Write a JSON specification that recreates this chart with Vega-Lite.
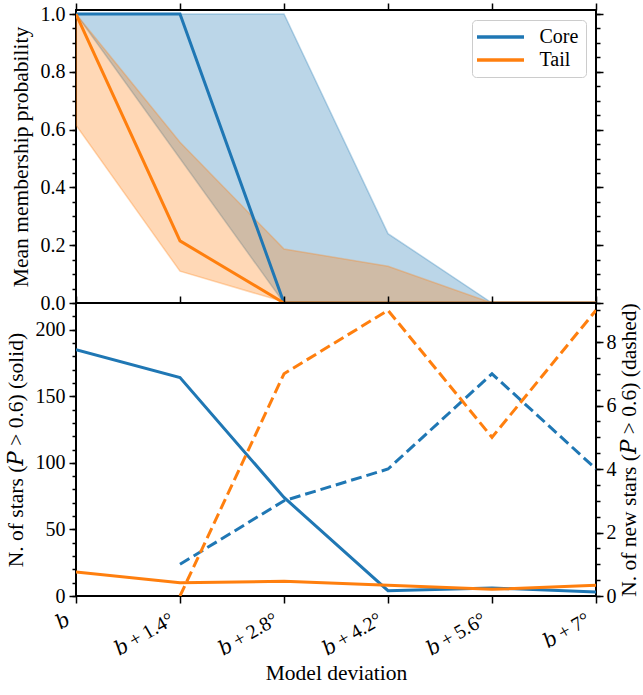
{
  "$schema": "https://vega.github.io/schema/vega-lite/v6.json",
  "padding": {"left": 3, "top": 1, "right": 0, "bottom": 0},
  "config": {
    "font": "Liberation Serif, DejaVu Serif, serif",
    "view": {"stroke": "#000000", "strokeWidth": 2},
    "axis": {
      "labelFont": "Liberation Serif, DejaVu Serif, serif",
      "titleFont": "Liberation Serif, DejaVu Serif, serif",
      "labelFontSize": 20,
      "titleFontSize": 21.5,
      "titleFontWeight": "normal",
      "labelColor": "#000000",
      "titleColor": "#000000",
      "tickColor": "#000000",
      "tickWidth": 1.5,
      "domain": false,
      "grid": false,
      "labelPadding": 4,
      "titlePadding": 8,
      "labelOverlap": false,
      "labelFlush": false
    },
    "legend": {
      "labelFont": "Liberation Serif, DejaVu Serif, serif",
      "titleFont": "Liberation Serif, DejaVu Serif, serif"
    }
  },
  "datasets": {
    "prob": [
      {"dev": 0, "group": "Core", "mean": 1.0, "lo": 1.0, "hi": 1.0},
      {"dev": 1.4, "group": "Core", "mean": 1.0, "lo": 0.5, "hi": 1.0},
      {"dev": 2.8, "group": "Core", "mean": 0.0, "lo": 0.0, "hi": 1.0},
      {"dev": 4.2, "group": "Core", "mean": 0.0, "lo": 0.0, "hi": 0.24},
      {"dev": 5.6, "group": "Core", "mean": 0.0, "lo": 0.0, "hi": 0.0},
      {"dev": 7, "group": "Core", "mean": 0.0, "lo": 0.0, "hi": 0.0},
      {"dev": 0, "group": "Tail", "mean": 1.0, "lo": 0.615, "hi": 1.0},
      {"dev": 1.4, "group": "Tail", "mean": 0.215, "lo": 0.11, "hi": 0.556},
      {"dev": 2.8, "group": "Tail", "mean": 0.0, "lo": 0.004, "hi": 0.187},
      {"dev": 4.2, "group": "Tail", "mean": 0.0, "lo": 0.0, "hi": 0.127},
      {"dev": 5.6, "group": "Tail", "mean": 0.0, "lo": 0.0, "hi": 0.0},
      {"dev": 7, "group": "Tail", "mean": 0.0, "lo": 0.0, "hi": 0.0}
    ],
    "count": [
      {"dev": 0, "group": "Core", "n": 185, "nnew": null},
      {"dev": 1.4, "group": "Core", "n": 164, "nnew": 1},
      {"dev": 2.8, "group": "Core", "n": 74, "nnew": 3},
      {"dev": 4.2, "group": "Core", "n": 4, "nnew": 4},
      {"dev": 5.6, "group": "Core", "n": 6, "nnew": 7},
      {"dev": 7, "group": "Core", "n": 3, "nnew": 4},
      {"dev": 0, "group": "Tail", "n": 18, "nnew": null},
      {"dev": 1.4, "group": "Tail", "n": 10, "nnew": 0},
      {"dev": 2.8, "group": "Tail", "n": 11, "nnew": 7},
      {"dev": 4.2, "group": "Tail", "n": 8, "nnew": 9},
      {"dev": 5.6, "group": "Tail", "n": 5, "nnew": 5},
      {"dev": 7, "group": "Tail", "n": 8, "nnew": 9}
    ]
  },
  "spacing": 0,
  "bounds": "flush",
  "resolve": {"scale": {"color": "independent"}, "legend": {"color": "independent"}},
  "vconcat": [
    {
      "width": 520,
      "height": 293,
      "data": {"name": "prob"},
      "resolve": {"axis": {"x": "independent", "y": "independent"}},
      "layer": [
        {
          "transform": [{"filter": "datum.group === 'Core'"}],
          "mark": {"type": "area", "fill": "#1f77b4", "fillOpacity": 0.3, "stroke": "#1f77b4", "strokeOpacity": 0.3, "strokeWidth": 1.5, "clip": true},
          "encoding": {
            "x": {"field": "dev", "type": "quantitative", "scale": {"domain": [0, 7], "nice": false, "zero": false},
                  "axis": {"orient": "top", "values": [0, 1.4, 2.8, 4.2, 5.6, 7], "labels": false, "title": null, "tickSize": 7}},
            "y": {"field": "lo", "type": "quantitative", "scale": {"domain": [0, 1.014], "nice": false, "zero": false},
                  "axis": {"orient": "left", "values": [0, 0.2, 0.4, 0.6, 0.8, 1.0], "format": ".1f", "title": "Mean membership probability", "tickSize": 7}},
            "y2": {"field": "hi"}
          }
        },
        {
          "transform": [{"filter": "datum.group === 'Tail'"}],
          "mark": {"type": "area", "fill": "#ff7f0e", "fillOpacity": 0.3, "stroke": "#ff7f0e", "strokeOpacity": 0.3, "strokeWidth": 1.5, "clip": true},
          "encoding": {
            "x": {"field": "dev", "type": "quantitative", "scale": {"domain": [0, 7], "nice": false, "zero": false}, "axis": null},
            "y": {"field": "lo", "type": "quantitative", "scale": {"domain": [0, 1.014], "nice": false, "zero": false}, "axis": null},
            "y2": {"field": "hi"}
          }
        },
        {
          "mark": {"type": "line", "strokeWidth": 3, "clip": true},
          "encoding": {
            "x": {"field": "dev", "type": "quantitative", "scale": {"domain": [0, 7], "nice": false, "zero": false}, "axis": null},
            "y": {"field": "mean", "type": "quantitative", "scale": {"domain": [0, 1.014], "nice": false, "zero": false}, "axis": null},
            "color": {
              "field": "group", "type": "nominal",
              "scale": {"domain": ["Core", "Tail"], "range": ["#1f77b4", "#ff7f0e"]},
              "legend": {
                "title": null, "orient": "top-right", "offset": 10,
                "symbolType": "M-4.7,0H4.7", "symbolSize": 100, "symbolStrokeWidth": 3.5, "symbolOffset": 11.5,
                "labelFontSize": 20, "labelColor": "#000000", "labelOffset": 29,
                "fillColor": "#ffffff", "strokeColor": "#cccccc", "cornerRadius": 4, "padding": 7, "rowPadding": 3
              }
            }
          }
        },
        {
          "mark": {"type": "line", "opacity": 0},
          "encoding": {
            "x": {"field": "dev", "type": "quantitative", "scale": {"domain": [0, 7], "nice": false, "zero": false}, "axis": null},
            "y": {"field": "mean", "type": "quantitative", "scale": {"domain": [0, 1.014], "nice": false, "zero": false},
                  "axis": {"orient": "left", "values": [0, 0.05, 0.1, 0.15, 0.2, 0.25, 0.3, 0.35, 0.4, 0.45, 0.5, 0.55, 0.6, 0.65, 0.7, 0.75, 0.8, 0.85, 0.9, 0.95, 1.0], "labels": false, "title": null, "tickSize": 4}},
            "detail": {"field": "group"}
          }
        },
        {
          "mark": {"type": "line", "opacity": 0},
          "encoding": {
            "x": {"field": "dev", "type": "quantitative", "scale": {"domain": [0, 7], "nice": false, "zero": false}, "axis": null},
            "y": {"field": "mean", "type": "quantitative", "scale": {"domain": [0, 1.014], "nice": false, "zero": false},
                  "axis": {"orient": "right", "values": [0, 0.2, 0.4, 0.6, 0.8, 1.0], "labels": false, "title": null, "tickSize": 7}},
            "detail": {"field": "group"}
          }
        },
        {
          "mark": {"type": "line", "opacity": 0},
          "encoding": {
            "x": {"field": "dev", "type": "quantitative", "scale": {"domain": [0, 7], "nice": false, "zero": false}, "axis": null},
            "y": {"field": "mean", "type": "quantitative", "scale": {"domain": [0, 1.014], "nice": false, "zero": false},
                  "axis": {"orient": "right", "values": [0, 0.05, 0.1, 0.15, 0.2, 0.25, 0.3, 0.35, 0.4, 0.45, 0.5, 0.55, 0.6, 0.65, 0.7, 0.75, 0.8, 0.85, 0.9, 0.95, 1.0], "labels": false, "title": null, "tickSize": 4}},
            "detail": {"field": "group"}
          }
        }
      ]
    },
    {
      "width": 520,
      "height": 293,
      "data": {"name": "count"},
      "resolve": {"scale": {"y": "independent"}, "axis": {"x": "independent", "y": "independent"}},
      "layer": [
        {
          "mark": {"type": "line", "strokeWidth": 3, "clip": true},
          "encoding": {
            "x": {"field": "dev", "type": "quantitative", "scale": {"domain": [0, 7], "nice": false, "zero": false},
                  "axis": {"orient": "bottom", "values": [0, 1.4, 2.8, 4.2, 5.6, 7], "tickSize": 7,
                           "labelExpr": "datum.value == 0 ? '𝑏' : '𝑏\u2009+\u2009' + format(datum.value, '.2~f') + '°'",
                           "labelAngle": -30, "labelAlign": "right", "labelBaseline": "top", "labelOffset": -13, "labelPadding": 6,
                           "title": "Model deviation", "titlePadding": 4}},
            "y": {"field": "n", "type": "quantitative", "scale": {"domain": [0, 220], "nice": false, "zero": false},
                  "axis": {"orient": "left", "values": [0, 50, 100, 150, 200], "title": "N. of stars (𝑃 > 0.6) (solid)", "tickSize": 7}},
            "color": {"field": "group", "type": "nominal", "scale": {"domain": ["Core", "Tail"], "range": ["#1f77b4", "#ff7f0e"]}, "legend": null}
          }
        },
        {
          "mark": {"type": "line", "opacity": 0},
          "encoding": {
            "x": {"field": "dev", "type": "quantitative", "scale": {"domain": [0, 7], "nice": false, "zero": false},
                  "axis": {"orient": "top", "values": [0, 1.4, 2.8, 4.2, 5.6, 7], "labels": false, "title": null, "tickSize": 7}},
            "y": {"field": "n", "type": "quantitative", "scale": {"domain": [0, 220], "nice": false, "zero": false},
                  "axis": {"orient": "left", "values": [0, 10, 20, 30, 40, 50, 60, 70, 80, 90, 100, 110, 120, 130, 140, 150, 160, 170, 180, 190, 200, 210], "labels": false, "title": null, "tickSize": 4}},
            "detail": {"field": "group"}
          }
        },
        {
          "mark": {"type": "line", "strokeWidth": 3, "strokeDash": [11, 5], "clip": true},
          "encoding": {
            "x": {"field": "dev", "type": "quantitative", "scale": {"domain": [0, 7], "nice": false, "zero": false}, "axis": null},
            "y": {"field": "nnew", "type": "quantitative", "scale": {"domain": [0, 9.23], "nice": false, "zero": false},
                  "axis": {"orient": "right", "values": [0, 2, 4, 6, 8], "title": "N. of new stars (𝑃 > 0.6) (dashed)", "tickSize": 7, "labelPadding": 3, "titlePadding": 2, "titleAngle": 270, "titleBaseline": "top"}},
            "color": {"field": "group", "type": "nominal", "scale": {"domain": ["Core", "Tail"], "range": ["#1f77b4", "#ff7f0e"]}, "legend": null}
          }
        },
        {
          "mark": {"type": "line", "opacity": 0},
          "encoding": {
            "x": {"field": "dev", "type": "quantitative", "scale": {"domain": [0, 7], "nice": false, "zero": false}, "axis": null},
            "y": {"field": "nnew", "type": "quantitative", "scale": {"domain": [0, 9.23], "nice": false, "zero": false},
                  "axis": {"orient": "right", "values": [0, 0.5, 1, 1.5, 2, 2.5, 3, 3.5, 4, 4.5, 5, 5.5, 6, 6.5, 7, 7.5, 8, 8.5, 9], "labels": false, "title": null, "tickSize": 4}},
            "detail": {"field": "group"}
          }
        }
      ]
    }
  ]
}
